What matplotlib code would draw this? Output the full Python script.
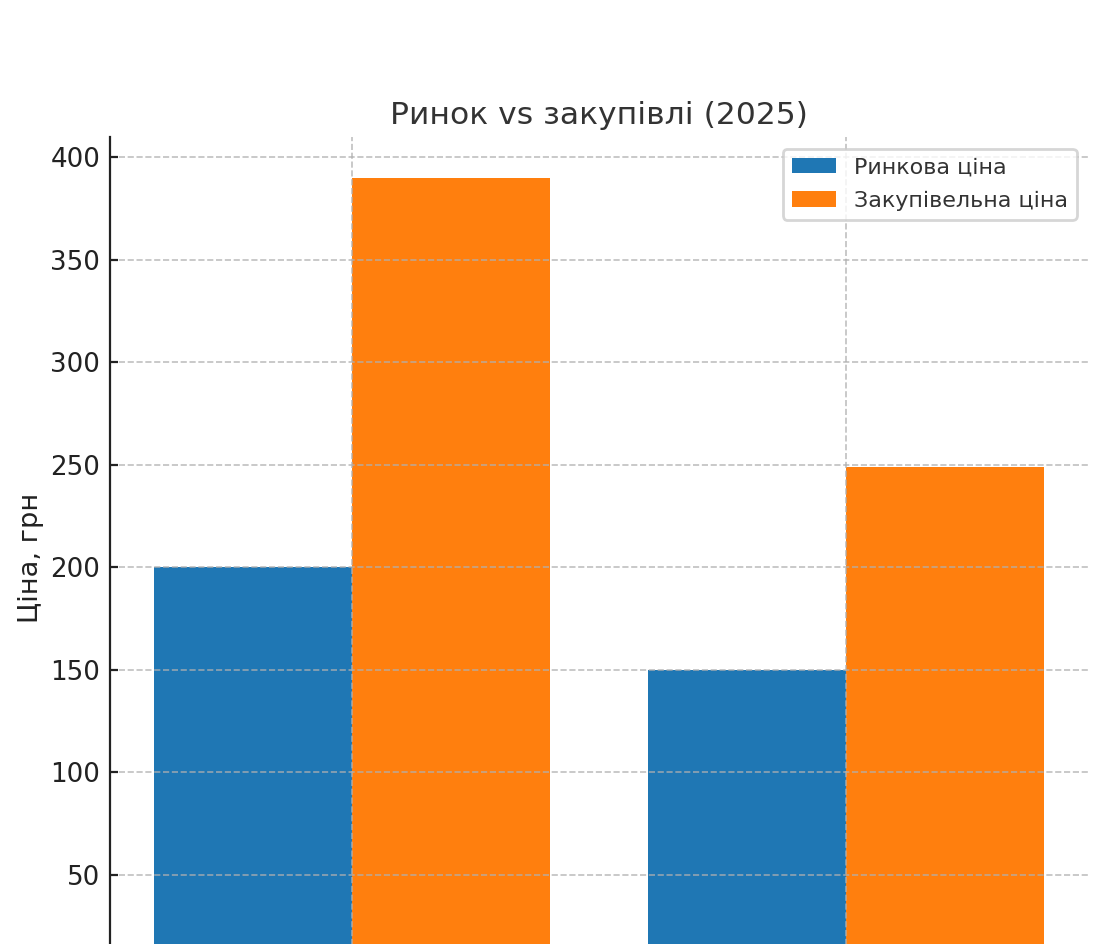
import matplotlib
matplotlib.use("Agg")
import matplotlib.pyplot as plt
import numpy as np

categories = ["Категорія 1", "Категорія 2"]
market_price = [200, 150]
purchase_price = [390, 249]
series_labels = ["Ринкова ціна", "Закупівельна ціна"]
title = "Ринок vs закупівлі (2025)"
ylabel = "Ціна, грн"
yticks = [50, 100, 150, 200, 250, 300, 350, 400]

plt.rcParams['font.family'] = ['DejaVu Sans']

fig = plt.figure(figsize=(5.52, 4.72), dpi=200)
H = 944.0
ax = fig.add_axes([110/1104, 1 - 977.6/H, (1088-110)/1104, (977.6-137.5)/H])

x = np.arange(len(categories))
w = 0.4
ax.bar(x - w/2, market_price, w, color="#1f77b4", label=series_labels[0])
ax.bar(x + w/2, purchase_price, w, color="#ff7f0e", label=series_labels[1])

ax.set_xticks(x)
ax.set_xticklabels(categories)
ax.tick_params(axis="x", labelbottom=False, bottom=False)
ax.set_ylim(0, 409.5)
ax.set_xlim(-0.49, 1.49)
ax.set_yticks(yticks)

ax.set_axisbelow(False)
ax.grid(True, linestyle="--", color="#b0b0b0", linewidth=0.6, alpha=0.8)
for s in ["top", "right"]:
    ax.spines[s].set_visible(False)
ax.spines["left"].set_color("#222222")
ax.spines["left"].set_linewidth(0.8)
ax.tick_params(axis="y", labelsize=9.4, colors="#222222", direction="in",
               length=2.8, pad=3.5)

ax.set_title(title, fontsize=11.3, color="#333333", pad=4.8)
ax.set_ylabel(ylabel, fontsize=9.8, color="#222222", labelpad=2.2)

leg = ax.legend(loc="upper right", fontsize=8, frameon=True, labelspacing=0.6)
for t in leg.get_texts():
    t.set_color("#333333")

fig.savefig("out.png", dpi=200)
